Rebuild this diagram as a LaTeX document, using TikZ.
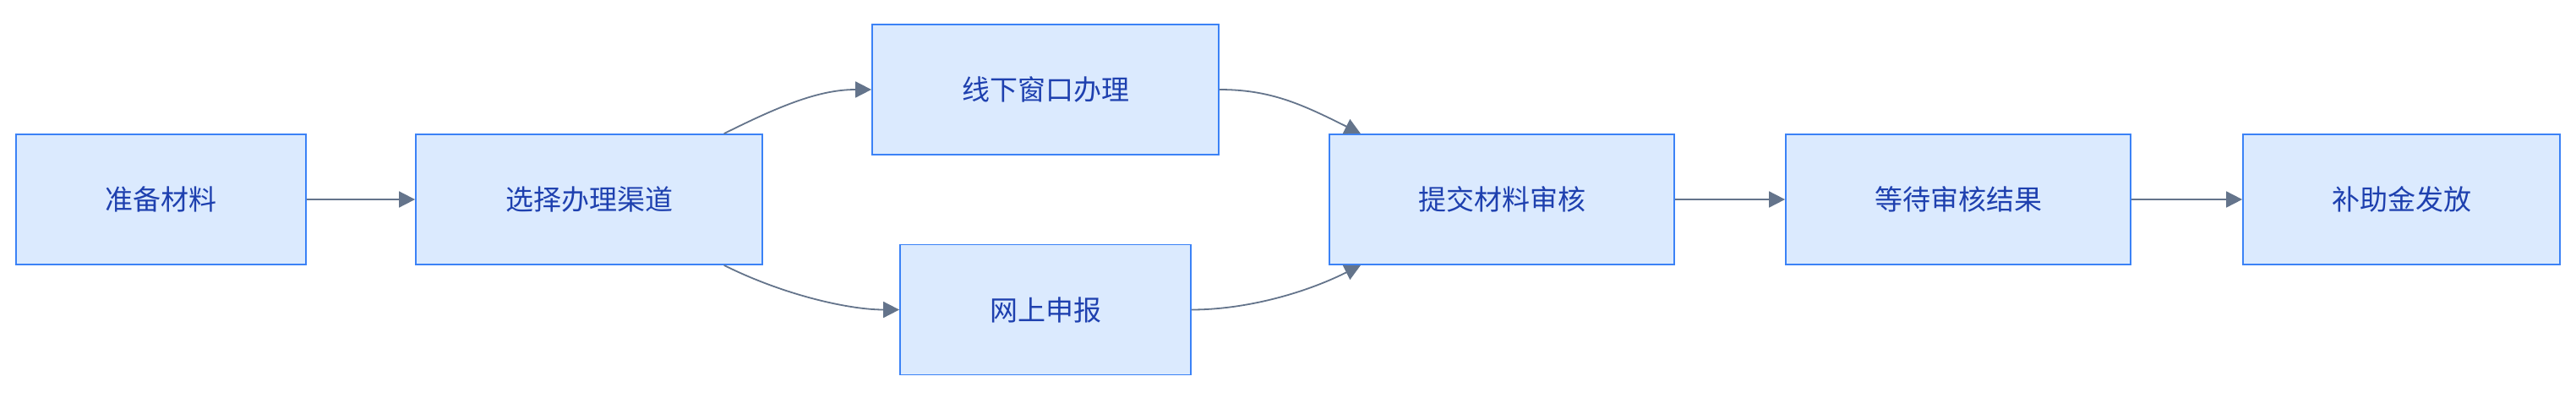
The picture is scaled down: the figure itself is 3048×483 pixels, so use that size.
\documentclass[tikz,border=0pt]{standalone}
\usepackage{fontspec}
\setmainfont{Noto Sans CJK SC}
\usetikzlibrary{arrows.meta}
\definecolor{boxfill}{HTML}{DBEAFE}
\definecolor{boxline}{HTML}{3B82F6}
\definecolor{boxtext}{HTML}{1E40AF}
\definecolor{flowline}{HTML}{64748B}
\tikzset{
  stepbox/.style={draw=boxline,fill=boxfill,text=boxtext,line width=1.8pt,
    minimum height=154pt,inner sep=0pt,font=\fontsize{33}{40}\selectfont},
  flow/.style={draw=flowline,line width=1.8pt,-{Triangle[length=19pt,width=19pt]}}
}

\begin{document}
\begin{tikzpicture}[x=1pt,y=-1pt]
          \useasboundingbox (0,0) rectangle (3048,483);
          \node[stepbox,minimum width=343pt] (prep) at (190.5,236) {准备材料};
          \node[stepbox,minimum width=410pt] (chan) at (697,236) {选择办理渠道};
          \node[stepbox,minimum width=410pt] (offline) at (1237,106) {线下窗口办理};
          \node[stepbox,minimum width=344pt] (online) at (1237,366.5) {网上申报};
          \node[stepbox,minimum width=408pt] (submit) at (1777,236) {提交材料审核};
          \node[stepbox,minimum width=408pt] (wait) at (2317,236) {等待审核结果};
          \node[stepbox,minimum width=375pt] (pay) at (2841.5,236) {补助金发放};
          \draw[flow] (prep) -- (chan);
          \draw[flow] (chan.26) .. controls +(70,-35) and +(-60,0) .. (offline.west);
          \draw[flow] (chan.-26) .. controls +(70,35) and +(-60,0) .. (online.west);
          \draw[flow] (offline.east) .. controls +(60,0) and +(-70,-35) .. (submit.155);
          \draw[flow] (online.east) .. controls +(60,0) and +(-70,35) .. (submit.-155);
          \draw[flow] (submit) -- (wait);
          \draw[flow] (wait) -- (pay);
        \end{tikzpicture}
\end{document}
